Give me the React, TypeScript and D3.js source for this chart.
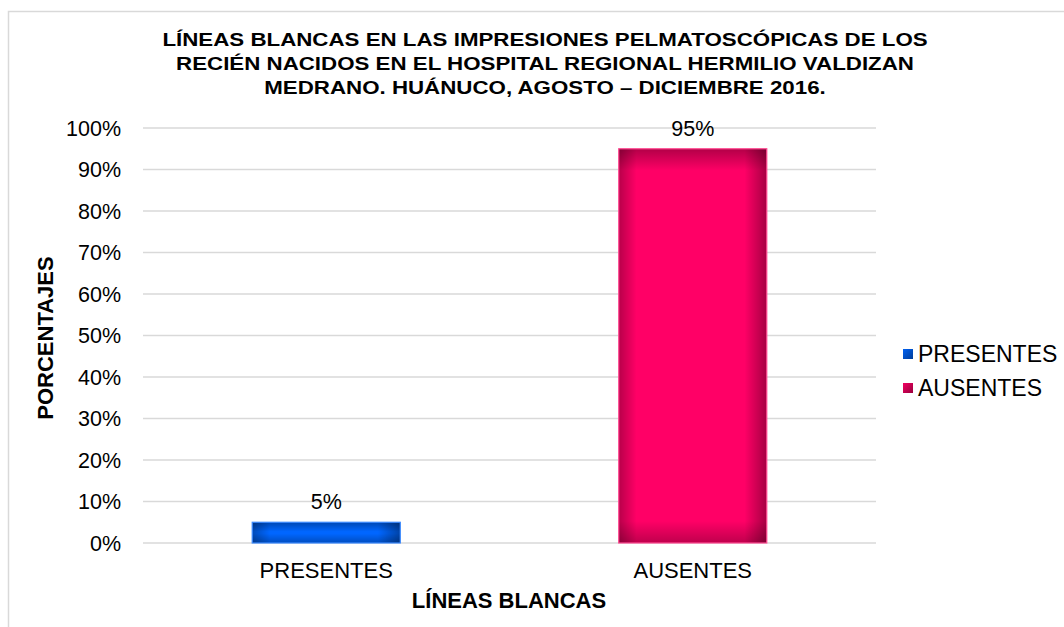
import React from "react";
import * as d3 from "d3";

const categories = ["PRESENTES", "AUSENTES"];
const values = [5, 95];
const colors = ["#0066ff", "#ff0066"];
const strokeColors = ["#3d8bff", "#ff4d94"];
const yTicks = [0, 10, 20, 30, 40, 50, 60, 70, 80, 90, 100];
const titleLines = [
  "LÍNEAS BLANCAS EN LAS IMPRESIONES PELMATOSCÓPICAS DE LOS",
  "RECIÉN NACIDOS EN EL HOSPITAL REGIONAL HERMILIO VALDIZAN",
  "MEDRANO. HUÁNUCO, AGOSTO – DICIEMBRE 2016.",
];
const xTitle = "LÍNEAS BLANCAS";
const yTitle = "PORCENTAJES";

const W = 1064;
const H = 627;
const font = "'Liberation Sans', Arial, sans-serif";

export default function App() {
  const x = d3.scaleBand<string>().domain(categories).range([143, 876]).padding(0);
  const y = d3.scaleLinear().domain([0, 100]).range([543, 128]);
  const barW = x.bandwidth() * 0.404;
  const edge = 22;

  return (
    <svg width={W} height={H} style={{ position: "absolute", left: 0, top: 0, background: "#fff" }}>
      <defs>
        <linearGradient id="hshade" x1="0" x2="1" y1="0" y2="0">
          <stop offset="0" stopColor="#000" stopOpacity={0.28} />
          <stop offset="0.12" stopColor="#000" stopOpacity={0} />
          <stop offset="0.85" stopColor="#000" stopOpacity={0} />
          <stop offset="1" stopColor="#000" stopOpacity={0.35} />
        </linearGradient>
        {categories.map((c, i) => {
          const top = y(values[i]);
          const bot = y(0);
          const h = bot - top;
          const f = Math.min(edge / h, 0.45);
          return (
            <linearGradient key={c} id={`vshade${i}`} gradientUnits="userSpaceOnUse" x1={0} x2={0} y1={top} y2={bot}>
              <stop offset="0" stopColor="#000" stopOpacity={0.3} />
              <stop offset={f} stopColor="#000" stopOpacity={0} />
              <stop offset={1 - f} stopColor="#000" stopOpacity={0} />
              <stop offset="1" stopColor="#000" stopOpacity={0.25} />
            </linearGradient>
          );
        })}
        <linearGradient id="legShade" x1="0" x2="1" y1="0" y2="1">
          <stop offset="0" stopColor="#000" stopOpacity={0.05} />
          <stop offset="1" stopColor="#000" stopOpacity={0.4} />
        </linearGradient>
      </defs>
      <rect x={8.5} y={11.5} width={W + 20} height={H + 20} fill="none" stroke="#d9d9d9" strokeWidth={1.5} />

      <g transform={`translate(545,0) scale(1.24,1)`}>
        {titleLines.map((t, i) => (
          <text key={i} x={0} y={46 + i * 24} textAnchor="middle" fontFamily={font} fontWeight="bold" fontSize={18} fill="#000">
            {t}
          </text>
        ))}
      </g>

      {yTicks.map((t) => (
        <g key={t}>
          <line x1={143} x2={876} y1={y(t)} y2={y(t)} stroke="#d9d9d9" strokeWidth={1.3} />
          <text x={121} y={y(t)} dy="0.36em" textAnchor="end" fontFamily={font} fontSize={21.5} fill="#000">
            {t}%
          </text>
        </g>
      ))}

      {categories.map((c, i) => {
        const cx = (x(c) as number) + x.bandwidth() / 2;
        const top = y(values[i]);
        const h = y(0) - top;
        return (
          <g key={c}>
            <rect x={cx - barW / 2} y={top} width={barW} height={h} fill={colors[i]} />
            <rect x={cx - barW / 2} y={top} width={barW} height={h} fill="url(#hshade)" />
            <rect x={cx - barW / 2} y={top} width={barW} height={h} fill={`url(#vshade${i})`} />
            <rect x={cx - barW / 2} y={top} width={barW} height={h} fill="none" stroke={strokeColors[i]} strokeWidth={1.2} />
            <text x={cx} y={top - 13} textAnchor="middle" fontFamily={font} fontSize={21.5} fill="#000">
              {values[i]}%
            </text>
            <text x={cx} y={578} textAnchor="middle" fontFamily={font} fontSize={22} fill="#000">
              {c}
            </text>
          </g>
        );
      })}

      <text x={509} y={608} textAnchor="middle" fontFamily={font} fontWeight="bold" fontSize={22} fill="#000">
        {xTitle}
      </text>
      <text
        transform={`translate(53, 338) rotate(-90)`}
        textAnchor="middle"
        fontFamily={font}
        fontWeight="bold"
        fontSize={22}
        fill="#000"
      >
        {yTitle}
      </text>

      {categories.map((c, i) => (
        <g key={c}>
          <rect x={903} y={354 + i * 34 - 5} width={10} height={10} fill={colors[i]} />
          <rect x={903} y={354 + i * 34 - 5} width={10} height={10} fill="url(#legShade)" />
          <text x={918} y={354 + i * 34} dy="0.36em" fontFamily={font} fontSize={23} fill="#000">
            {c}
          </text>
        </g>
      ))}
    </svg>
  );
}
